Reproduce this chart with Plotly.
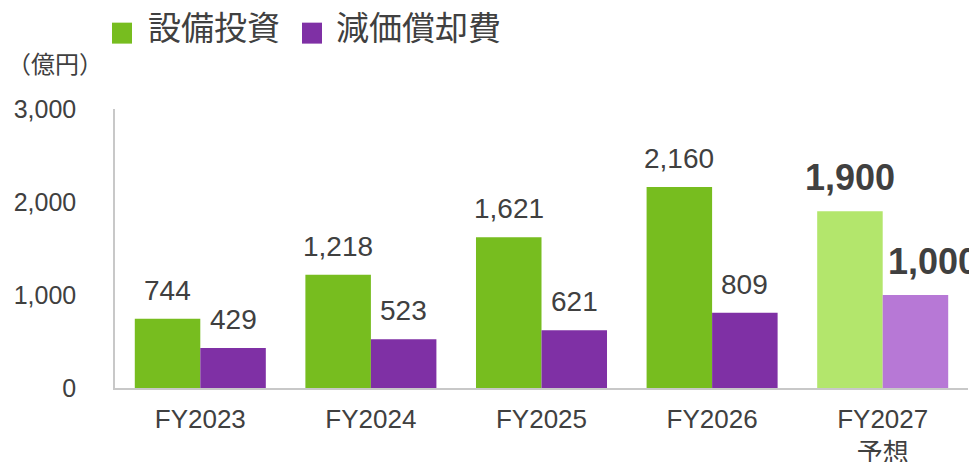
import plotly.graph_objects as go

categories = ["FY2023", "FY2024", "FY2025", "FY2026", "FY2027"]
tick_labels = ["FY2023", "FY2024", "FY2025", "FY2026", "FY2027<br>予想"]
capex = [744, 1218, 1621, 2160, 1900]
depreciation = [429, 523, 621, 809, 1000]
series_names = ["設備投資", "減価償却費"]
y_ticks = [0, 1000, 2000, 3000]
unit_label = "（億円）"
forecast_index = 4

W, H = 969, 462
PL, PR, PT, PB = 115, 968, 108.5, 388
FONT = "Liberation Sans, Arial, Noto Sans CJK JP, sans-serif"
TXT = "#404040"
GREEN, PURPLE = "#77BD1F", "#7F30A5"
LGREEN, LPURPLE = "#B3E66C", "#B778D6"
BARGAP = 0.232
cat_w = (PR - PL) / len(categories)
bar_w = cat_w * (1 - BARGAP) / 2


def px(x):
    return (x - PL) / (PR - PL)


def py(y):
    return (PB - y) / (PB - PT)


def colors(base, light):
    return [light if i == forecast_index else base for i in range(len(categories))]


fig = go.Figure()
fig.add_bar(x=categories, y=capex, name=series_names[0],
            marker=dict(color=colors(GREEN, LGREEN), line=dict(width=0)))
fig.add_bar(x=categories, y=depreciation, name=series_names[1],
            marker=dict(color=colors(PURPLE, LPURPLE), line=dict(width=0)))

annotations = []
for vals, sign in ((capex, -1), (depreciation, 1)):
    for i, v in enumerate(vals):
        fc = i == forecast_index
        extra = 18 if (fc and sign == 1) else 0
        annotations.append(dict(
            x=categories[i], y=v, xref="x", yref="y",
            text=(f"<b>{v:,}</b>" if fc else f"{v:,}"),
            showarrow=False, xanchor="center", yanchor="bottom",
            xshift=sign * bar_w / 2 + extra, yshift=11,
            font=dict(family=FONT, size=36 if fc else 28, color=TXT),
        ))

annotations.append(dict(x=px(5), y=py(64), xref="paper", yref="paper", text=unit_label,
                        showarrow=False, xanchor="left", yanchor="middle",
                        font=dict(family=FONT, size=24, color=TXT)))

shapes = []
legend_items = [(series_names[0], GREEN, 112, 146), (series_names[1], PURPLE, 302, 334)]
for name, col, sx, tx in legend_items:
    shapes.append(dict(type="rect", xref="paper", yref="paper",
                       x0=px(sx), x1=px(sx + 20), y0=py(43), y1=py(22),
                       fillcolor=col, line=dict(width=0)))
    annotations.append(dict(x=px(tx), y=py(28), xref="paper", yref="paper", text=name,
                            showarrow=False, xanchor="left", yanchor="middle",
                            font=dict(family=FONT, size=33, color=TXT)))

fig.update_layout(
    width=W, height=H,
    margin=dict(l=PL, r=W - PR, t=PT, b=H - PB, pad=0, autoexpand=False),
    paper_bgcolor="white", plot_bgcolor="white",
    barmode="group", bargap=BARGAP, bargroupgap=0,
    showlegend=False,
    font=dict(family=FONT, color=TXT),
    annotations=annotations, shapes=shapes,
)
fig.update_xaxes(type="category", tickvals=categories, ticktext=tick_labels,
                 range=[-0.5, len(categories) - 0.5],
                 showline=True, linecolor="#C8C8C8", linewidth=1.5,
                 showgrid=False, zeroline=False, ticks="", automargin=False,
                 tickfont=dict(family=FONT, size=26, color=TXT), ticklabelstandoff=7)
fig.update_yaxes(range=[0, 3000], tickvals=y_ticks, tickformat=",",
                 showline=True, linecolor="#C8C8C8", linewidth=1.5,
                 showgrid=False, zeroline=False, ticks="", automargin=False,
                 tickfont=dict(family=FONT, size=25, color=TXT), ticklabelstandoff=32)

fig.write_html(
    "out.html",
    config={"displayModeBar": False},
    post_script="document.body.style.margin='0';document.body.style.overflow='hidden';",
)
